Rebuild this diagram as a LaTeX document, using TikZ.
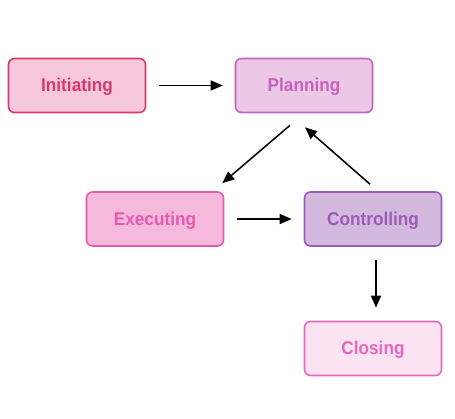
\documentclass[tikz,border=0pt]{standalone}
\usepackage{fontspec}
\setmainfont{Liberation Sans}[FakeStretch=0.93]
\usetikzlibrary{arrows.meta}
\definecolor{initF}{HTML}{F7C8DB}
\definecolor{initD}{HTML}{D9386E}
\definecolor{planF}{HTML}{ECC8E7}
\definecolor{planD}{HTML}{C760BF}
\definecolor{exeF}{HTML}{F5B9DB}
\definecolor{exeD}{HTML}{E659AE}
\definecolor{ctrlF}{HTML}{D4B9DF}
\definecolor{ctrlD}{HTML}{9C5BB6}
\definecolor{closeF}{HTML}{FCE3F2}
\definecolor{closeD}{HTML}{E866BF}
\tikzset{
  box/.style={rounded corners=6pt, line width=1.6pt, minimum width=137pt, minimum height=54pt, inner sep=0pt, text height=14pt, text depth=1.6pt, font=\fontsize{18.5}{22}\selectfont\bfseries},
  arr/.style={line width=1.5pt, -{Stealth[length=12pt,width=10pt,inset=0pt]}}
}
\begin{document}
\begin{tikzpicture}[x=1pt,y=-1pt]
\useasboundingbox (0,0) rectangle (455,419);
\node[box, fill=initF, draw=initD, text=initD] (init) at (77,85.5) {Initiating};
\node[box, fill=planF, draw=planD, text=planD] (plan) at (304,85.5) {Planning};
\node[box, fill=exeF, draw=exeD, text=exeD] (exe) at (155,219) {Executing};
\node[box, fill=ctrlF, draw=ctrlD, text=ctrlD] (ctrl) at (373,219) {Controlling};
\node[box, fill=closeF, draw=closeD, text=closeD] (close) at (373,348.5) {Closing};
\draw[arr] ([xshift=13pt]init.east) -- ([xshift=-12pt]plan.west);
\draw[arr] ([xshift=-14pt,yshift=-12pt]plan.south) -- ([xshift=-2pt,yshift=8pt]exe.north east);
\draw[arr] ([xshift=-3pt,yshift=7pt]ctrl.north) -- ([xshift=1pt,yshift=-14pt]plan.south);
\draw[arr] ([xshift=13pt]exe.east) -- ([xshift=-12pt]ctrl.west);
\draw[arr] ([xshift=3pt,yshift=-13pt]ctrl.south) -- ([xshift=3pt,yshift=13pt]close.north);
\end{tikzpicture}
\end{document}
